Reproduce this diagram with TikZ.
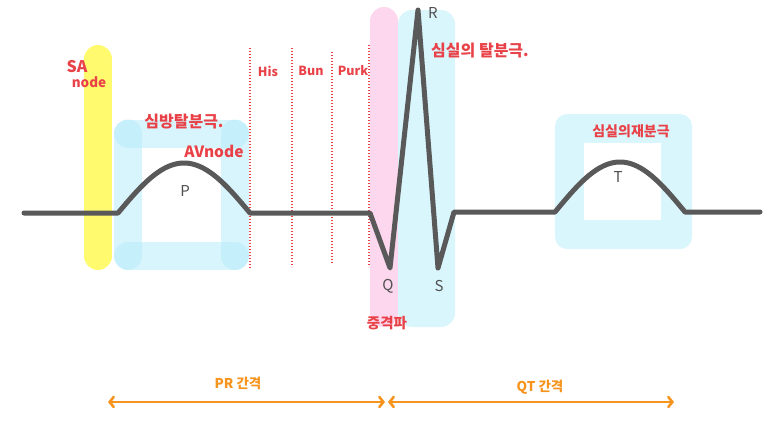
\documentclass[tikz,border=0pt]{standalone}
\usepackage{fontspec}
\setmainfont{Noto Sans CJK KR}
\usetikzlibrary{arrows.meta}
\definecolor{ecg}{RGB}{89,89,89}
\definecolor{hred}{RGB}{232,66,72}
\definecolor{horange}{RGB}{246,148,30}
\definecolor{hyellow}{RGB}{255,250,110}
\definecolor{hpink}{RGB}{253,215,238}
\definecolor{hblue}{RGB}{218,246,253}
\definecolor{hbluec}{RGB}{178,234,250}
\definecolor{dgray}{RGB}{80,80,80}
\begin{document}
\begin{tikzpicture}[x=1pt,y=-1pt,
  redtxt/.style={text=hred, font=\fontsize{16}{16}\selectfont\bfseries, inner sep=0pt},
  smallred/.style={text=hred, font=\fontsize{12.5}{12.5}\selectfont\bfseries, inner sep=0pt},
  wavetxt/.style={text=dgray, font=\fontsize{15}{15}\selectfont, inner sep=0pt},
  orangetxt/.style={text=horange, font=\fontsize{13.5}{13.5}\selectfont\bfseries, inner sep=0pt},
  framestroke/.style={draw=hbluec, opacity=0.5, line width=28pt, line cap=round},
  dotline/.style={draw=hred, line width=1.4pt, dash pattern=on 1.4pt off 1.6pt},
  ecgline/.style={draw=ecg, line width=5pt, line cap=round, line join=round},
  interval/.style={draw=horange, line width=2.6pt, line cap=round,
    {Straight Barb[length=4pt,width=10pt,line cap=round]}-{Straight Barb[length=4pt,width=10pt,line cap=round]}}
]
\useasboundingbox (0,0) rectangle (773,429);
% P frame
\draw[framestroke] (128,133.5) -- (235,133.5);
\draw[framestroke] (128,256) -- (235,256);
\draw[framestroke] (128,133.5) -- (128,256);
\draw[framestroke] (235,133.5) -- (235,256);
% SA node bar
\draw[draw=hyellow, line width=28pt, line cap=round] (98,59) -- (98,256);
% septal (pink) and ventricular (blue) bars
\fill[hpink, rounded corners=14pt] (370,7) rectangle (398,327);
\fill[hblue, rounded corners=14pt] (398,10) rectangle (455,327);
% T box
\fill[hblue, rounded corners=12pt] (555,114) rectangle (692,249);
\fill[white] (584,143) rectangle (661,220);
% conduction dotted lines
\draw[dotline] (250,48) -- (250,268);
\draw[dotline] (292,48) -- (292,267);
\draw[dotline] (332,52) -- (332,263);
\draw[dotline] (369,45) -- (369,267);
% ECG trace
\draw[ecgline] (24,213) -- (118,213)
  -- plot[domain=0:180, samples=50] ({118+0.73333*\x},{213-50*sin(\x)})
  -- (370,213) -- (390,268) -- (418,10) -- (438,268) -- (454,212) -- (555,212)
  -- plot[domain=0:180, samples=50] ({555+0.72222*\x},{212-50*sin(\x)})
  -- (760,212);
% labels
\node[redtxt, font=\fontsize{16}{16}\selectfont\bfseries] (sa) at (77,67) {SA};
\node[redtxt, font=\fontsize{13.5}{13.5}\selectfont\bfseries] (san) at (89,82) {node};
\node[redtxt] (atrdep) at (184,122) {심방탈분극.};
\node[redtxt, font=\fontsize{15.5}{15.5}\selectfont\bfseries] (av) at (214,151) {AVnode};
\node[wavetxt] (p) at (185,191) {P};
\node[smallred] (his) at (268,71) {His};
\node[smallred] (bun) at (311,71) {Bun};
\node[smallred] (purk) at (353,71) {Purk};
\node[wavetxt] (r) at (433,13) {R};
\node[redtxt] (vendep) at (480,51) {심실의 탈분극.};
\node[wavetxt] (q) at (388,286) {Q};
\node[wavetxt] (s) at (439,286) {S};
\node[redtxt, font=\fontsize{14.5}{14.5}\selectfont\bfseries] (sept) at (387,323) {중격파};
\node[redtxt, font=\fontsize{14}{14}\selectfont\bfseries] (venrep) at (631,131) {심실의재분극};
\node[wavetxt] (t) at (618,177) {T};
% intervals
\coordinate (prl) at (108,402);
\coordinate (prr) at (385,402);
\coordinate (qtl) at (388,402);
\coordinate (qtr) at (674,402);
\draw[interval] (prl) -- (prr);
\draw[interval] (qtl) -- (qtr);
\node[orangetxt] (prlab) at (238,383) {PR 간격};
\node[orangetxt] (qtlab) at (540,387) {QT 간격};
\end{tikzpicture}
\end{document}
